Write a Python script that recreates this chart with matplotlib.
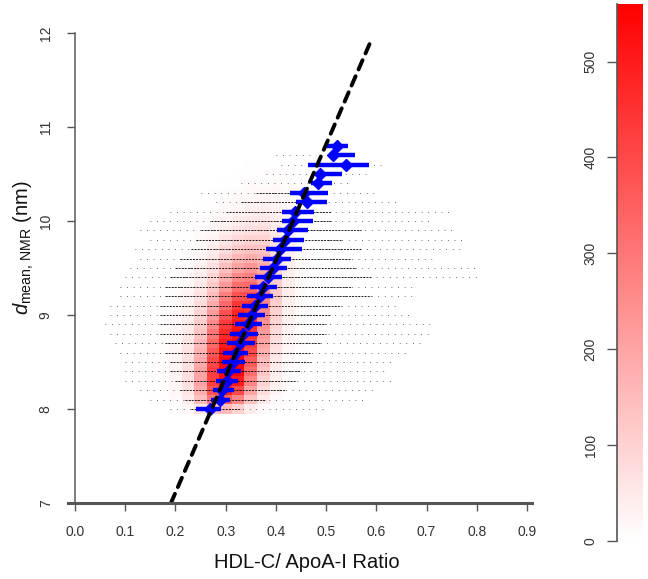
import numpy as np
import matplotlib
matplotlib.use("Agg")
import matplotlib.pyplot as plt
from matplotlib.colors import LinearSegmentedColormap

plt.rcParams['font.family'] = ['Liberation Sans', 'DejaVu Sans']
plt.rcParams['mathtext.fontset'] = 'custom'
plt.rcParams['mathtext.rm'] = 'Liberation Sans'
plt.rcParams['mathtext.it'] = 'Liberation Sans:italic'

# ---------------- data ----------------
# 2D histogram (counts) : x bin centres and dmean rows
heat_x = [0.150, 0.175, 0.200, 0.225, 0.250, 0.275, 0.300, 0.325, 0.350,
          0.375, 0.400, 0.425, 0.450, 0.475, 0.500, 0.525, 0.550]
heat_y = [8.0, 8.1, 8.2, 8.3, 8.4, 8.5, 8.6, 8.7, 8.8, 8.9, 9.0, 9.1, 9.2, 9.3,
          9.4, 9.5, 9.6, 9.7, 9.8, 9.9, 10.0, 10.1, 10.2, 10.3, 10.4, 10.5, 10.6, 10.7]
heat_counts = [
    [0, 2, 6, 20, 60, 130, 150, 100, 45, 15, 5, 2, 0, 0, 0, 0, 0],
    [2, 5, 14, 45, 140, 290, 350, 270, 130, 50, 15, 5, 2, 0, 0, 0, 0],
    [3, 7, 20, 60, 180, 380, 480, 400, 200, 75, 25, 8, 3, 1, 0, 0, 0],
    [3, 8, 24, 70, 200, 420, 540, 500, 270, 100, 35, 11, 4, 1, 0, 0, 0],
    [3, 9, 26, 72, 200, 420, 550, 557, 320, 125, 42, 13, 4, 1, 0, 0, 0],
    [3, 9, 25, 68, 185, 400, 545, 557, 360, 150, 50, 16, 5, 2, 0, 0, 0],
    [3, 8, 23, 62, 170, 370, 530, 557, 400, 175, 60, 19, 6, 2, 1, 0, 0],
    [3, 8, 21, 55, 150, 335, 500, 550, 430, 200, 72, 23, 7, 2, 1, 0, 0],
    [2, 7, 19, 48, 130, 300, 470, 530, 450, 220, 82, 26, 8, 3, 1, 0, 0],
    [2, 6, 16, 42, 112, 260, 430, 510, 460, 240, 92, 30, 9, 3, 1, 0, 0],
    [2, 5, 14, 36, 95, 220, 380, 480, 455, 255, 100, 33, 10, 3, 1, 0, 0],
    [1, 4, 12, 30, 80, 185, 330, 440, 440, 265, 108, 36, 11, 4, 1, 0, 0],
    [1, 4, 10, 25, 65, 150, 280, 380, 390, 260, 112, 39, 12, 4, 1, 0, 0],
    [1, 3, 8, 20, 52, 120, 225, 320, 330, 240, 110, 40, 13, 4, 1, 0, 0],
    [1, 3, 6, 16, 40, 95, 180, 260, 280, 215, 105, 40, 13, 4, 1, 0, 0],
    [1, 2, 5, 12, 31, 72, 140, 205, 230, 190, 98, 38, 13, 4, 1, 0, 0],
    [0, 2, 4, 9, 23, 54, 105, 160, 180, 160, 88, 36, 12, 4, 1, 0, 0],
    [0, 1, 3, 7, 17, 40, 78, 118, 135, 128, 76, 33, 11, 4, 1, 0, 0],
    [0, 1, 2, 5, 12, 28, 55, 85, 100, 100, 64, 30, 11, 4, 1, 0, 0],
    [0, 1, 2, 4, 9, 20, 38, 60, 72, 75, 52, 26, 10, 4, 1, 0, 0],
    [0, 0, 1, 3, 6, 14, 26, 42, 52, 56, 42, 22, 9, 3, 1, 0, 0],
    [0, 0, 1, 2, 4, 9, 17, 28, 36, 40, 32, 18, 8, 3, 1, 0, 0],
    [0, 0, 1, 1, 3, 6, 11, 18, 24, 28, 24, 14, 7, 3, 1, 0, 0],
    [0, 0, 0, 1, 2, 4, 7, 11, 15, 18, 17, 11, 6, 2, 1, 0, 0],
    [0, 0, 0, 1, 1, 2, 4, 6, 9, 11, 11, 8, 5, 2, 1, 0, 0],
    [0, 0, 0, 0, 1, 1, 2, 4, 5, 6, 7, 5, 3, 2, 1, 0, 0],
    [0, 0, 0, 0, 0, 1, 1, 2, 3, 4, 4, 3, 2, 1, 1, 0, 0],
    [0, 0, 0, 0, 0, 0, 1, 1, 2, 2, 2, 2, 1, 1, 0, 0, 0],
]

# raw observations per dmean row: full range and dense core range
obs_y = heat_y
obs_min = [0.19, 0.15, 0.13, 0.10, 0.10, 0.10, 0.09, 0.08, 0.07, 0.06, 0.07, 0.07, 0.09, 0.09,
           0.10, 0.11, 0.13, 0.12, 0.15, 0.13, 0.15, 0.19, 0.28, 0.25, 0.33, 0.38, 0.41, 0.40]
obs_max = [0.50, 0.58, 0.60, 0.63, 0.62, 0.64, 0.66, 0.69, 0.71, 0.71, 0.67, 0.64, 0.68, 0.68,
           0.81, 0.80, 0.71, 0.77, 0.78, 0.75, 0.71, 0.75, 0.65, 0.60, 0.55, 0.59, 0.62, 0.48]
core_min = [0.23, 0.22, 0.21, 0.20, 0.19, 0.19, 0.18, 0.18, 0.17, 0.17, 0.17, 0.17, 0.18, 0.18,
            0.19, 0.20, 0.21, 0.23, 0.24, 0.25, 0.27, 0.30, 0.33, 0.36, np.nan, np.nan, np.nan, np.nan]
core_max = [0.33, 0.38, 0.42, 0.44, 0.45, 0.47, 0.47, 0.49, 0.50, 0.50, 0.51, 0.53, 0.59, 0.55,
            0.59, 0.56, 0.55, 0.57, 0.53, 0.57, 0.51, 0.51, 0.50, 0.50, np.nan, np.nan, np.nan, np.nan]

# binned means with intervals (blue)
bar_y = [8.0, 8.1, 8.2, 8.3, 8.4, 8.5, 8.6, 8.7, 8.8, 8.9, 9.0, 9.1, 9.2, 9.3, 9.4,
         9.5, 9.6, 9.7, 9.8, 9.9, 10.0, 10.1, 10.2, 10.3, 10.4, 10.5, 10.6, 10.7, 10.8]
bar_mean = [0.269, 0.2885, 0.292, 0.302, 0.305, 0.315, 0.3205, 0.3285, 0.335, 0.345, 0.352,
            0.358, 0.368, 0.375, 0.385, 0.394, 0.402, 0.408, 0.418, 0.425, 0.435, 0.438,
            0.462, 0.455, 0.484, 0.488, 0.540, 0.514, 0.522]
bar_lo = [0.241, 0.270, 0.2755, 0.281, 0.283, 0.292, 0.295, 0.302, 0.3085, 0.3185, 0.325,
          0.332, 0.342, 0.348, 0.358, 0.368, 0.375, 0.380, 0.395, 0.4015, 0.4115, 0.4115,
          0.440, 0.428, 0.469, 0.481, 0.463, 0.5085, 0.502]
bar_hi = [0.290, 0.3085, 0.3165, 0.325, 0.330, 0.3385, 0.345, 0.358, 0.365, 0.3715, 0.378,
          0.385, 0.395, 0.4015, 0.4115, 0.422, 0.431, 0.451, 0.455, 0.463, 0.4745, 0.476,
          0.502, 0.504, 0.512, 0.531, 0.586, 0.557, 0.544]

# fitted line
fit_slope = 12.35
fit_intercept = 4.64
fit_x = [0.191, 0.587]

xticks = [0.0, 0.1, 0.2, 0.3, 0.4, 0.5, 0.6, 0.7, 0.8, 0.9]
yticks = [7, 8, 9, 10, 11, 12]
cbar_ticks = [0, 100, 200, 300, 400, 500]
cbar_max = 560

# ---------------- figure ----------------
W, H = 648, 579
fig = plt.figure(figsize=(W / 100, H / 100), dpi=100)


def px_rect(x0, y0, x1, y1):
    return [x0 / W, 1 - y1 / H, (x1 - x0) / W, (y1 - y0) / H]


ax = fig.add_axes(px_rect(75, 33, 527, 503))
ax.set_xlim(0, 0.9)
ax.set_ylim(7, 12)

cmap = LinearSegmentedColormap.from_list('wr', ['#FFFFFF', '#FF0000'])
hx = np.array(heat_x)
hy = np.array(heat_y)
xe = np.append(hx - 0.0125, hx[-1] + 0.0125)
ye = np.append(hy - 0.05, hy[-1] + 0.05)
counts = np.ma.masked_less_equal(np.array(heat_counts, float), 0)
mesh = ax.pcolormesh(xe, ye, counts, cmap=cmap, vmin=0, vmax=cbar_max,
                     shading='flat', zorder=1, edgecolors='none')

# raw points as rows
ax.hlines(obs_y, obs_min, obs_max, colors='black', linewidth=0.7,
          linestyles=(0, (0.8, 6)), zorder=2, alpha=0.7)
cy = [y for y, a in zip(obs_y, core_min) if not np.isnan(a)]
cmn = [a for a in core_min if not np.isnan(a)]
cmx = [b for b in core_max if not np.isnan(b)]
ax.hlines(cy, cmn, cmx, colors='black', linewidth=0.7,
          linestyles=(0, (2, 1.2)), zorder=2, alpha=0.85)

# fitted dashed line
fx = np.array(fit_x)
ax.plot(fx, fit_slope * fx + fit_intercept, color='black', lw=2.8,
        linestyle=(0, (2.6, 1.9)), dash_capstyle='round', zorder=5)

# blue bars and means
ax.hlines(bar_y, bar_lo, bar_hi, colors='#0000FF', linewidth=3.2, zorder=4)
ax.plot(bar_mean, bar_y, 'D', color='#0000FF', ms=6.5, mec='#0000FF', zorder=4)

# axes styling
for s in ['top', 'right']:
    ax.spines[s].set_visible(False)
ax.spines['left'].set_bounds(7, 12)
ax.spines['bottom'].set_bounds(0, 0.9)
ax.spines['left'].set_color('#666666')
ax.spines['bottom'].set_color('#666666')
ax.spines['left'].set_linewidth(1.2)
ax.spines['bottom'].set_linewidth(1.2)
ax.plot([-0.014, 0.91], [7, 7], color='#555555', lw=2.2, clip_on=False, zorder=6)

ax.set_xticks(xticks)
ax.set_xticklabels([f'{v:.1f}' for v in xticks])
ax.set_yticks(yticks)
ax.set_yticklabels([str(v) for v in yticks])
ax.tick_params(direction='out', length=6, width=1, color='#555555',
               labelsize=10, labelcolor='#333333')
ax.tick_params(axis='x', pad=10)
ax.tick_params(axis='y', pad=10, labelrotation=90)
for lbl in ax.get_yticklabels():
    lbl.set_va('center')

fig.text(307 / W, 1 - 563 / H, 'HDL-C/ ApoA-I Ratio', ha='center', va='center',
         fontsize=14.5, color='#111111')
fig.text(24 / W, 1 - 248 / H, r'$d_{\mathrm{mean,\,NMR}}$ (nm)', ha='center', va='center',
         rotation=90, fontsize=14.5, color='#111111')

# colour bar
cax = fig.add_axes(px_rect(617, 4, 643, 541))
cb = fig.colorbar(mesh, cax=cax)
cb.outline.set_visible(False)
cax.set_ylim(0, cbar_max)
cax.yaxis.set_ticks_position('left')
cax.set_yticks(cbar_ticks)
cax.set_yticklabels([str(v) for v in cbar_ticks])
cax.tick_params(axis='y', direction='out', length=7, width=1, color='#555555',
                labelsize=10, labelcolor='#333333', pad=7, labelrotation=90)
for lbl in cax.get_yticklabels():
    lbl.set_va('center')
cax.plot([0, 0], [0, 1], transform=cax.transAxes, color='#555555', lw=1.2, clip_on=False)

fig.savefig('out.png', dpi=100)
